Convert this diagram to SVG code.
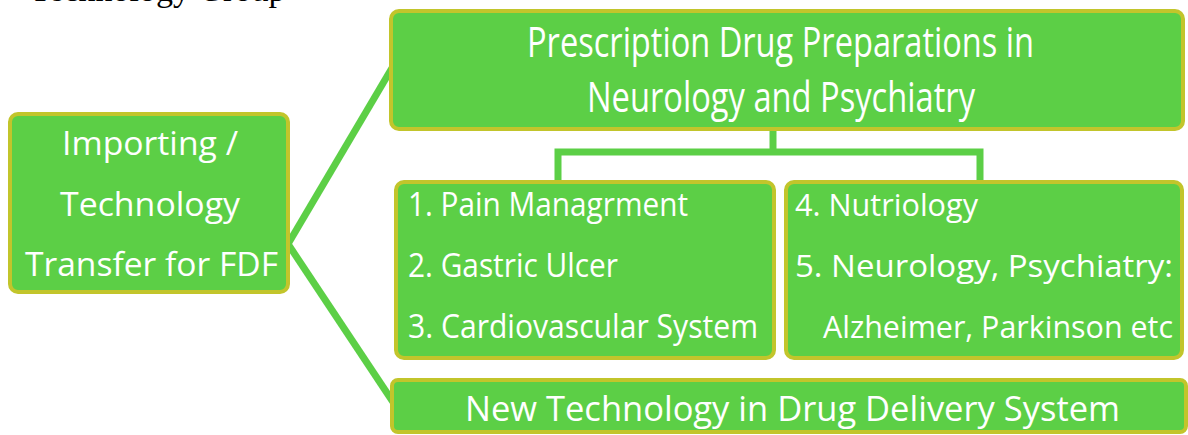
<svg xmlns="http://www.w3.org/2000/svg" width="1188" height="435" viewBox="0 0 1188 435">
<style>
.box{fill:#5ccf46;stroke:#c2c52b;stroke-width:4}
.lbl{font-family:"Open Sans","Noto Sans",sans-serif;fill:#ffffff}
.conn{stroke:#5ccf46;stroke-width:7;fill:none}
</style>
<rect width="1188" height="435" fill="#ffffff"/>
<text x="30" y="1" font-family="Liberation Serif, serif" font-size="34" fill="#000000">Technology Group</text>
<g id="connectors">
<line class="conn" x1="288" y1="244" x2="392" y2="68"/>
<line class="conn" x1="288" y1="244" x2="393" y2="402"/>
<polyline class="conn" points="773,130 773,152"/>
<polyline class="conn" points="558,183 558,152 980,152 980,183"/>
</g>
<g id="n-import">
<rect class="box" x="10" y="114" width="278" height="178" rx="8"/>
<text class="lbl" font-size="33"><tspan x="62" y="155" textLength="176" lengthAdjust="spacingAndGlyphs">Importing /</tspan><tspan x="60" y="216" textLength="180" lengthAdjust="spacingAndGlyphs">Technology</tspan><tspan x="25" y="276" textLength="253" lengthAdjust="spacingAndGlyphs">Transfer for FDF</tspan></text>
</g>
<g id="n-prescription">
<rect class="box" x="391" y="11" width="792" height="118" rx="8"/>
<text class="lbl" font-size="42"><tspan x="527" y="57" textLength="507" lengthAdjust="spacingAndGlyphs">Prescription Drug Preparations in</tspan><tspan x="587" y="112" textLength="388" lengthAdjust="spacingAndGlyphs">Neurology and Psychiatry</tspan></text>
</g>
<g id="n-list1">
<rect class="box" x="396" y="182" width="378" height="176" rx="8"/>
<text class="lbl" font-size="32"><tspan x="408" y="216" textLength="280" lengthAdjust="spacingAndGlyphs">1. Pain Managrment</tspan><tspan x="408" y="277" textLength="210" lengthAdjust="spacingAndGlyphs">2. Gastric Ulcer</tspan><tspan x="408" y="338" textLength="350" lengthAdjust="spacingAndGlyphs">3. Cardiovascular System</tspan></text>
</g>
<g id="n-list2">
<rect class="box" x="786" y="182" width="396" height="176" rx="8"/>
<text class="lbl" font-size="31"><tspan x="795" y="216" textLength="183" lengthAdjust="spacingAndGlyphs">4. Nutriology</tspan><tspan x="795" y="277" textLength="378" lengthAdjust="spacingAndGlyphs">5. Neurology, Psychiatry:</tspan><tspan x="823" y="338" textLength="350" lengthAdjust="spacingAndGlyphs">Alzheimer, Parkinson etc</tspan></text>
</g>
<g id="n-delivery">
<rect class="box" x="392" y="380" width="794" height="52" rx="6"/>
<text class="lbl" font-size="35"><tspan x="465" y="421" textLength="655" lengthAdjust="spacingAndGlyphs">New Technology in Drug Delivery System</tspan></text>
</g>
</svg>
